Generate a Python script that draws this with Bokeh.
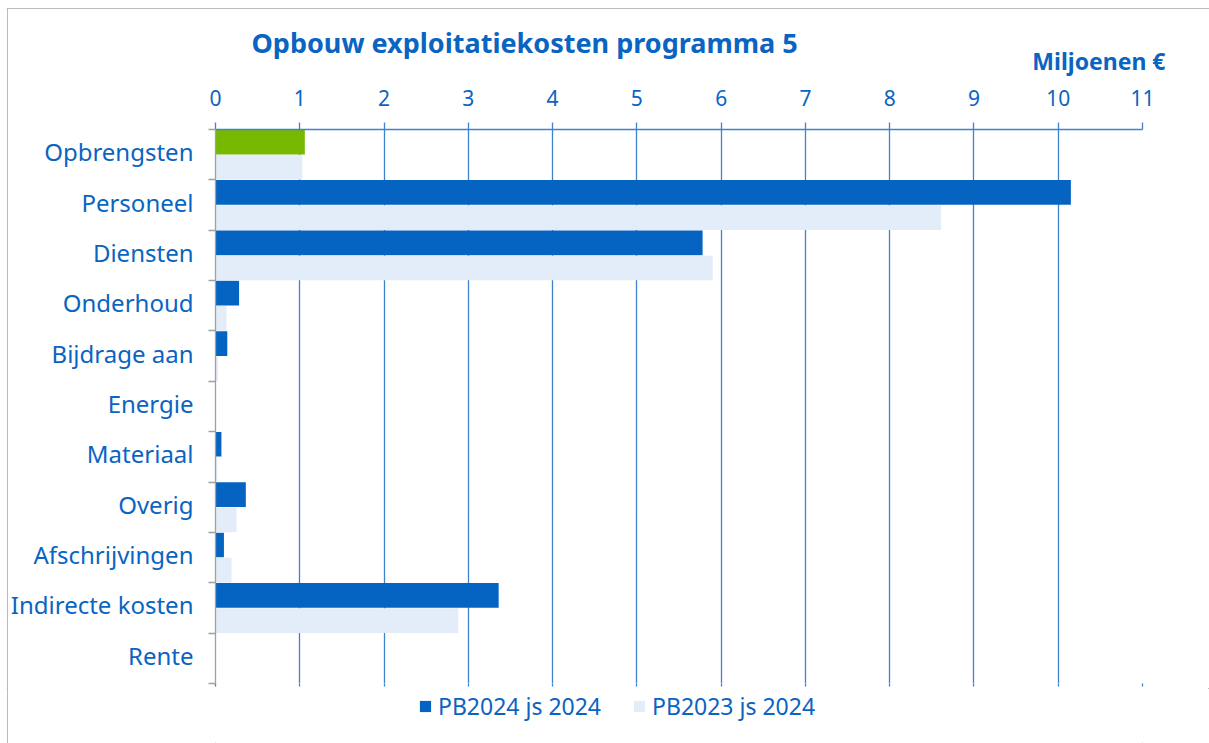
from bokeh.plotting import figure
from bokeh.layouts import column
from bokeh.models import (ColumnDataSource, Range1d, LinearAxis, FixedTicker,
                          Title, Legend, LegendItem)
from bokeh.embed import file_html
from bokeh.resources import INLINE

# ---------------- data ----------------
categories = ["Opbrengsten", "Personeel", "Diensten", "Onderhoud", "Bijdrage aan",
              "Energie", "Materiaal", "Overig", "Afschrijvingen",
              "Indirecte kosten", "Rente"]
pb2024 = [1.06, 10.15, 5.78, 0.28, 0.14, 0.0, 0.07, 0.36, 0.10, 3.36, 0.0]
pb2023 = [1.03, 8.61, 5.90, 0.13, 0.03, 0.0, 0.02, 0.25, 0.19, 2.88, 0.0]
x_ticks = list(range(0, 12))
series_names = ["PB2024 js 2024", "PB2023 js 2024"]
title_text = "Opbouw exploitatiekosten programma 5"
unit_text = "Miljoenen €"

# ---------------- style ----------------
FONT = "Noto Sans"
TXT = "#0a64c2"
DARK = "#0563c1"
LIGHT = "#e3edf9"
GREEN = "#76b900"
GRID = "#3f83cf"
GRAY = "#a0a0a0"

n = len(categories)
idx = list(range(n))
src = ColumnDataSource(dict(
    y1=[i + 0.25 for i in idx],
    y2=[i + 0.75 for i in idx],
    v1=pb2024,
    v2=pb2023,
    c1=[GREEN if i == 0 else DARK for i in idx],
))

p = figure(width=1202, height=680, x_range=Range1d(0, 11), y_range=Range1d(n, 0),
           output_backend="svg", toolbar_location=None, x_axis_location="above",
           min_border_left=207, min_border_right=67, min_border_top=121,
           min_border_bottom=5)
p.title.visible = False
p.outline_line_color = None
p.background_fill_color = "white"
p.border_fill_color = "white"

r1 = p.hbar(y="y1", left=0, right="v1", height=0.49, source=src,
            fill_color="c1", line_color=None)
r2 = p.hbar(y="y2", left=0, right="v2", height=0.49, source=src,
            fill_color=LIGHT, line_color=None)

# grid
p.ygrid.visible = False
p.xgrid.ticker = FixedTicker(ticks=x_ticks)
p.xgrid.grid_line_color = GRID
p.xgrid.grid_line_width = 1.3

# top axis
xa = p.xaxis[0]
xa.ticker = FixedTicker(ticks=x_ticks)
xa.axis_line_color = GRID
xa.axis_line_width = 1.3
xa.major_tick_line_color = GRID
xa.major_tick_line_width = 1.3
xa.major_tick_out = 7
xa.major_tick_in = 0
xa.minor_tick_line_color = None
xa.major_label_standoff = 17
xa.major_label_text_font = FONT
xa.major_label_text_font_size = "21px"
xa.major_label_text_color = TXT

# bottom small ticks
xb = LinearAxis(ticker=FixedTicker(ticks=x_ticks))
xb.axis_line_color = None
xb.major_tick_line_color = GRID
xb.major_tick_line_width = 1.3
xb.major_tick_out = 3
xb.major_tick_in = 0
xb.minor_tick_line_color = None
xb.major_label_text_color = None
xb.major_label_text_font_size = "1px"
xb.major_label_standoff = 0
p.add_layout(xb, "below")

# left axis: labels near each row centre, tick marks on the row boundaries
LABEL_POS = 0.44
ya = p.yaxis[0]
ya.ticker = FixedTicker(ticks=[i + LABEL_POS for i in idx], minor_ticks=list(range(n + 1)))
ya.major_label_overrides = {i + LABEL_POS: c for i, c in zip(idx, categories)}
ya.axis_line_color = GRAY
ya.axis_line_width = 1.3
ya.major_tick_line_color = None
ya.major_tick_out = 0
ya.major_tick_in = 0
ya.minor_tick_line_color = GRAY
ya.minor_tick_line_width = 1.3
ya.minor_tick_out = 7
ya.minor_tick_in = 0
ya.major_label_standoff = 15
ya.major_label_text_font = FONT
ya.major_label_text_font_size = "24px"
ya.major_label_text_color = TXT

# titles (first added is closest to the plot)
p.add_layout(Title(text=unit_text, align="right", offset=-23, standoff=20,
                   text_font=FONT, text_font_size="23px", text_font_style="bold",
                   text_color=TXT), "above")
p.add_layout(Title(text=title_text, align="left", offset=36, standoff=-56,
                   text_font=FONT, text_font_size="27px", text_font_style="bold",
                   text_color=TXT), "above")

# legend strip (separate small figure so nothing is clipped by the plot frame)
p2 = figure(width=1202, height=55, x_range=Range1d(0, 1), y_range=Range1d(0, 1),
            output_backend="svg", toolbar_location=None,
            x_axis_type=None, y_axis_type=None, min_border=0)
p2.outline_line_color = None
p2.grid.visible = False
# zero-width swatch carriers (outside the visible range) for the legend glyphs
lr1 = p2.hbar(y=[-5], left=[-5], right=[-5], height=0.5, fill_color=DARK, line_color=None)
lr2 = p2.hbar(y=[-5], left=[-5], right=[-5], height=0.5, fill_color=LIGHT, line_color=None)
legend = Legend(items=[LegendItem(label=series_names[0], renderers=[lr1]),
                       LegendItem(label=series_names[1], renderers=[lr2])],
                location=(203, 21), orientation="horizontal",
                glyph_width=14, glyph_height=14, label_standoff=6, spacing=31,
                padding=0, margin=0, border_line_color=None,
                background_fill_alpha=0,
                label_text_font=FONT, label_text_font_size="23px",
                label_text_color=TXT)
p2.add_layout(legend, "center")

layout = column(p, p2, spacing=0,
                styles={"outline": "1px solid #a6a6a6", "outline-offset": "-1px",
                        "margin-left": "7px", "margin-top": "8px"})

open("out.html", "w").write(file_html(layout, INLINE))
